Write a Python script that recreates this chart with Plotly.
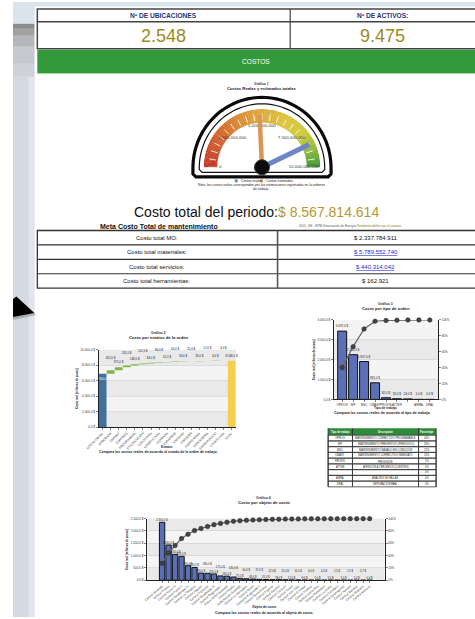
import math
import plotly.graph_objects as go

W, H = 475, 619
FONT = "Liberation Sans, Arial, sans-serif"


def X(p):
    return p / W


def Y(p):
    return 1 - p / H


# ---------------- data ----------------
header_labels = ["Nº DE UBICACIONES", "Nº DE ACTIVOS:"]
header_values = ["2.548", "9.475"]

gauge_real = 8567814614
gauge_estimado = 4850000000
gauge_max = 10000000000
gauge_tick_values = [0, 2500000000, 5000000000, 7500000000, 10000000000]
gauge_tick_labels = ["0", "2.500.000.000", "5.000.000.000", "7.500.000.000", "10.000.000.000"]
gauge_minor_step = 500000000

total_label = "Costo total del periodo:"
total_value = "$ 8.567.814.614"
cost_items = ["Costo total MO:", "Costo total materiales:", "Costo total servicios:",
              "Costo total herramientas:"]
cost_values = ["$ 2.337.784.911", "$ 5.789.552.740", "$ 440.314.042", "$ 162.921"]
cost_links = [False, True, True, False]

estatus = ["COSTO INICIAL", "APROBADA", "ESPMAT", "ESPPROG", "PROGRAMADA", "EN EJECUCIÓN",
           "EJECUTADA", "COMPLETADA", "CERRADA", "ESPAPROB", "ESPSERV", "ESPHERR",
           "SUSPENDIDA", "ESPCOMPRA", "ESPREPUESTO", "CANCELADA", "TOTAL"]
estatus_vals = [6904, 452, 371, 241, 148, 112, 84, 66, 52, 41, 33, 25, 18, 12, 6, 3]
estatus_ticks = [0, 2000, 4000, 6000, 8000, 10000]

tipos = ["OPROG", "MP", "MSC", "CMANT", "PROVIS", "ATTER", " ", "ANPAL", "DPAL"]
tipo_vals = [3437, 2250, 1907, 835, 82, 32, 24, 1.0, 0.3]
tipo_desc = ["MANTENIMIENTO CORRECTIVO PROGRAMABLE", "MANTENIMIENTO PREVENTIVO (PERIÓDICO)",
             "MANTENIMIENTO BASADO EN CONDICIÓN", "MANTENIMIENTO CORRECTIVO INMEDIATO",
             "PROVISIÓN", "ATENCIÓN A TERCEROS (CLIENTES)", "", "ANÁLISIS DE FALLAS",
             "DEPURACIÓN PAAL"]
tipo_pct = ["40%", "26%", "22%", "10%", "1%", "0%", "0%", "0%", "0%"]
tipo_ticks = [0, 1000, 2000, 3000, 4000]

objetos = ["Central Guatapé", "Central Playas", "Central Porce III", "Central Porce II",
           "Central Guadalupe IV", "Central La Tasajera", "Central Jaguas", "Central Troneras",
           "Central Guadalupe III", "Central Riogrande I", "Presa Peñol-Guatapé", "Central Niquía",
           "Subestación Guatapé", "Central La Herradura", "Central Ayurá", "Embalse Riogrande II",
           "Central Manantiales", "Central Pajarito", "Central Dolores", "Central Caracolí",
           "Central Ínsula", "Central San José", "Central El Popal", "Central Piedras",
           "Central Santa Rita", "Central Remedios", "Central La Vuelta", "Central Caruquia",
           "Central Guanaquitas", "Central Sonsón", "Central Mulatos", "Central Hispania",
           "Central Moravia"]
objeto_vals = [2350, 1430, 1050, 970, 590, 520, 290, 280, 255, 175, 165, 130, 75, 60, 48, 37,
               31, 22, 18, 15, 12, 11, 9, 6, 5, 4, 3, 2.5, 2, 1.5, 1, 0.7, 0.4]
objeto_ticks = [0, 500, 1000, 1500, 2000, 2500]
pct_ticks = [0, 20, 40, 60, 80, 100]


def money(v):
    s = f"{v:,.1f}"
    return s.replace(",", "X").replace(".", ",").replace("X", ".") + " $"


def cum_pct(vals):
    t = sum(vals)
    out, c = [], 0
    for v in vals:
        c += v
        out.append(c / t * 100)
    return out


shapes = []
annotations = []


def rect(x0, y0, x1, y1, fill=None, line=None, lw=1, layer="below"):
    shapes.append(dict(type="rect", xref="paper", yref="paper", x0=X(x0), x1=X(x1),
                       y0=Y(y0), y1=Y(y1), fillcolor=fill or "rgba(0,0,0,0)",
                       line=dict(color=line or "rgba(0,0,0,0)", width=lw if line else 0),
                       layer=layer))


def hline(x0, x1, y, color="#333", lw=1):
    shapes.append(dict(type="line", xref="paper", yref="paper", x0=X(x0), x1=X(x1),
                       y0=Y(y), y1=Y(y), line=dict(color=color, width=lw)))


def vline(x, y0, y1, color="#333", lw=1):
    shapes.append(dict(type="line", xref="paper", yref="paper", x0=X(x), x1=X(x),
                       y0=Y(y0), y1=Y(y1), line=dict(color=color, width=lw)))


def txt(x, y, text, size, color="#111", xanchor="center", under=False, family=FONT):
    f = dict(size=size, color=color, family=family)
    if under:
        f["lineposition"] = "under"
    annotations.append(dict(xref="paper", yref="paper", x=X(x), y=Y(y), text=text,
                            showarrow=False, xanchor=xanchor, yanchor="middle", font=f))


def path_from(points, close=True):
    d = "M " + " L ".join(f"{X(px):.5f},{Y(py):.5f}" for px, py in points)
    return d + (" Z" if close else "")


# ---------------- page background ----------------
rect(0, 0, 22, 619, fill="#d5dae2")
rect(16, 75, 22, 619, fill="#e1e4ea")
rect(0, 0, 475, 4.5, fill="#d9e3ec")
rect(0, 0, 22, 22, fill="#dbe3eb")
rect(0, 22, 22, 27, fill="#8c8c8c")
rect(0, 27, 22, 34, fill="#a2a2a2")
rect(0, 34, 22, 45, fill="#b5b7ba")
rect(0, 45, 22, 62, fill="#c6c9cd")
rect(0, 62, 22, 75, fill="#cfd3d9")
# arrow
shapes.append(dict(type="path", xref="paper", yref="paper",
                   path=path_from([(0, 301), (4, 298), (24, 315), (0, 320)]),
                   fillcolor="rgba(90,90,90,0.35)", line=dict(width=0)))
shapes.append(dict(type="path", xref="paper", yref="paper",
                   path=path_from([(0, 299), (3.5, 296.5), (22, 313), (0, 317)]),
                   fillcolor="#000", line=dict(width=0)))

# ---------------- header table ----------------
rect(25, 7, 477, 47, line="#444", lw=1.5)
hline(25, 477, 20, "#444", 1.5)
vline(285, 7, 47, "#444", 1.2)
for cx, lab, val in zip([155, 380], header_labels, header_values):
    txt(cx, 14, f"<b>{lab}</b>", 6.6, "#28337a")
    txt(cx, 34, val, 18, "#9c8a1e")

rect(25, 48, 477, 72, fill="#33993a")
hline(25, 477, 72, "#a8d8a0", 1)
txt(250, 60, "COSTOS", 6.6, "#ffffff")

# ---------------- gauge ----------------
txt(256, 82.5, "<b>Gráfico 1</b>", 3.4, "#333")
txt(256, 87, "<b>Costos Reales y estimados totales</b>", 4.2, "#222")

gcx, gcy = 256, 167
# frame (outer thick + inner thin)
for R, bottom, lw, col in [(71, 176, 3.2, "#0a0a0a"), (64.5, 171.5, 1.2, "#111")]:
    pts = []
    for i in range(0, 61):
        a = math.pi - math.pi * i / 60
        pts.append((gcx + R * math.cos(a), gcy - R * math.sin(a)))
    pts += [(gcx + R, bottom - 3), (gcx + R - 3, bottom), (gcx - R + 3, bottom), (gcx - R, bottom - 3)]
    shapes.append(dict(type="path", xref="paper", yref="paper", path=path_from(pts),
                       line=dict(color=col, width=lw), fillcolor="rgba(0,0,0,0)"))


def deg(v):
    return v / gauge_max * 180.0


def hex2rgb(h):
    h = h.lstrip("#")
    return tuple(int(h[i:i + 2], 16) for i in (0, 2, 4))


stops = [(0.0, "#c43a2a"), (0.22, "#d46a2e"), (0.45, "#dca23c"), (0.62, "#dcc03e"),
         (0.78, "#cfcc3a"), (0.9, "#8db83a"), (1.0, "#3c9a36")]


def grad(t):
    for (t0, c0), (t1, c1) in zip(stops[:-1], stops[1:]):
        if t0 <= t <= t1:
            f = (t - t0) / (t1 - t0)
            a, b = hex2rgb(c0), hex2rgb(c1)
            return "rgb(%d,%d,%d)" % tuple(round(a[k] + (b[k] - a[k]) * f) for k in range(3))
    return stops[-1][1]


NB = 72
band_theta = [(i + 0.5) * 180 / NB for i in range(NB)]
fig = go.Figure()
fig.add_trace(go.Barpolar(r=[14] * NB, base=[46] * NB, theta=band_theta, width=[180 / NB + 0.3] * NB,
                          marker=dict(color=[grad(t / 180) for t in band_theta], line=dict(width=0)),
                          subplot="polar", hoverinfo="skip", showlegend=False))
# minor tick marks
tr, tt = [], []
n_minor = int(gauge_max / gauge_minor_step)
for i in range(n_minor + 1):
    th = deg(i * gauge_minor_step)
    tr += [48, 55, None]
    tt += [th, th, None]
fig.add_trace(go.Scatterpolar(r=tr, theta=tt, mode="lines", line=dict(color="rgba(255,255,255,0.85)", width=1),
                              subplot="polar", hoverinfo="skip", showlegend=False))
fig.add_trace(go.Scatterpolar(r=[43] * len(gauge_tick_values), theta=[deg(v) for v in gauge_tick_values],
                              mode="text", text=gauge_tick_labels, cliponaxis=False,
                              textfont=dict(size=4.3, color="#333", family=FONT),
                              subplot="polar", hoverinfo="skip", showlegend=False))
# needles
fig.add_trace(go.Scatterpolar(r=[0, 54], theta=[deg(gauge_estimado)] * 2, mode="lines",
                              line=dict(color="#d99656", width=4.5), cliponaxis=False,
                              subplot="polar", hoverinfo="skip", showlegend=False))
fig.add_trace(go.Scatterpolar(r=[0, 54], theta=[deg(gauge_real)] * 2, mode="lines",
                              line=dict(color="#6c86c6", width=5), cliponaxis=False,
                              subplot="polar", hoverinfo="skip", showlegend=False))
fig.add_trace(go.Scatterpolar(r=[0], theta=[0], mode="markers", cliponaxis=False,
                              marker=dict(size=15, color="#0b0b0b", line=dict(color="#333", width=1)),
                              subplot="polar", hoverinfo="skip", showlegend=False))

# gauge legend & note
rect(228, 178.5, 231, 181.5, fill="#6c86c6")
txt(232, 180, "Costos reales", 3.4, "#222", xanchor="left")
rect(254, 178.5, 257, 181.5, fill="#d99656")
txt(258, 180, "Costos estimados", 3.4, "#222", xanchor="left")
txt(255, 184.5, "Nota: los costos reales corresponden por las estimaciones registradas en la ordenes", 3.4, "#222")
txt(255, 188.5, "de trabajo.", 3.4, "#222")

# ---------------- total and cost table ----------------
txt(250, 211, f"{total_label}<span style='color:#b29a2e'>{total_value}</span>", 14, "#111")
txt(150, 226, "<b>Meta Costo Total de mantenimiento</b>", 7, "#111")
txt(347, 225.5, "0101_GE - EPM Generación de Energía <span style='color:#8a7a10'>Pendiente definir por el usuario.</span>",
    3.2, "#555")

rows = [230, 244.5, 259, 273.5, 288]
rect(25, rows[0], 477, rows[-1], line="#333", lw=1.3)
for yy in rows[1:-1]:
    hline(25, 477, yy, "#333", 1.1)
vline(272, rows[0], rows[-1], "#555", 1.6)
for i, (lab, val, link) in enumerate(zip(cost_items, cost_values, cost_links)):
    ym = (rows[i] + rows[i + 1]) / 2
    txt(148, ym, lab, 6, "#111")
    txt(373, ym, val, 6, "#2b2bd6" if link else "#111", under=link)

# ---------------- chart 2: waterfall ----------------
cum = 0
wf_base, wf_y, wf_text, wf_col, wf_pos = [], [], [], [], []
for i, v in enumerate(estatus_vals):
    if i == 0:
        wf_base.append(0)
        wf_col.append("#40709b")
        wf_pos.append("inside")
    else:
        wf_base.append(cum)
        wf_col.append("#7db544")
        wf_pos.append("outside")
    wf_y.append(v)
    wf_text.append(money(v) + ("<br>&nbsp;<br>&nbsp;" if i % 2 == 1 else ""))
    cum += v
wf_base.append(0)
wf_y.append(cum)
wf_text.append(money(cum))
wf_col.append("#f4d04e")
wf_pos.append("outside")

fig.add_trace(go.Bar(x=estatus, y=wf_y, base=wf_base, width=0.96,
                     marker=dict(color=wf_col, line=dict(width=0)),
                     text=wf_text, textposition=wf_pos, insidetextanchor="end",
                     constraintext="none", cliponaxis=False, textangle=0,
                     textfont=dict(size=2.9, color="#222", family=FONT),
                     insidetextfont=dict(size=2.9, color="#ffffff", family=FONT),
                     xaxis="x", yaxis="y", showlegend=False))

txt(150, 333, "<b>Gráfico 2</b>", 3.4, "#333")
txt(150, 338, "<b>Costo por estatus de la orden</b>", 4.2, "#222")
txt(158, 448, "<b>Estatus</b>", 3.2, "#222")
txt(150, 452.5, "<b>Compara los costos reales de acuerdo al estado de la orden de trabajo.</b>", 3.5, "#222")

# ---------------- chart 3: pareto tipo ----------------
fig.add_trace(go.Bar(x=tipos, y=tipo_vals, width=0.82,
                     marker=dict(color="#5a6fb6", line=dict(color="#111", width=1)),
                     text=[money(v) for v in tipo_vals], textposition="outside",
                     constraintext="none", cliponaxis=False,
                     textfont=dict(size=3.0, color="#222", family=FONT),
                     xaxis="x2", yaxis="y2", showlegend=False))
fig.add_trace(go.Scatter(x=tipos, y=cum_pct(tipo_vals), mode="lines+markers",
                         line=dict(color="#666", width=1.2),
                         marker=dict(size=4.5, color="#444", line=dict(color="#222", width=0.5)),
                         xaxis="x2", yaxis="y3", showlegend=False, cliponaxis=False))
txt(383, 304, "<b>Gráfico 3</b>", 3.4, "#333")
txt(383, 308.5, "<b>Costo por tipo de orden</b>", 4.2, "#222")
txt(383, 409, "<b>Tipo de trabajo</b>", 3.2, "#222")
txt(380, 413.5, "<b>Compara los costos reales de acuerdo al tipo de trabajo.</b>", 3.6, "#222")

# tipo table
tcols = [324, 349, 417, 435]
t_top, t_head = 429, 436
rh = (488 - t_head) / len(tipos)
rect(tcols[0], t_top, tcols[-1], t_head, fill="#2e8b3a")
for cx, h in zip([(tcols[0] + tcols[1]) / 2, (tcols[1] + tcols[2]) / 2, (tcols[2] + tcols[3]) / 2],
                 ["Tipo de trabajo", "Descripción", "Porcentaje"]):
    txt(cx, (t_top + t_head) / 2, f"<b>{h}</b>", 2.6, "#fff")
for i, (tp, de, pc) in enumerate(zip(tipos, tipo_desc, tipo_pct)):
    y0 = t_head + i * rh
    rect(tcols[0], y0, tcols[-1], y0 + rh, line="#333", lw=0.8)
    ym = y0 + rh / 2
    txt((tcols[0] + tcols[1]) / 2, ym, tp, 2.6, "#222")
    txt((tcols[1] + tcols[2]) / 2, ym, de, 2.6, "#222")
    txt((tcols[2] + tcols[3]) / 2, ym, pc, 2.6, "#222")
for cx in tcols:
    vline(cx, t_top, 488, "#333", 1)

# ---------------- chart 4: pareto objeto ----------------
obj_text = []
for i, v in enumerate(objeto_vals):
    lab = money(v)
    if i >= 6 and i % 2 == 1:
        lab += "<br>&nbsp;<br>&nbsp;"
    obj_text.append(lab)
fig.add_trace(go.Bar(x=objetos, y=objeto_vals, width=0.82,
                     marker=dict(color="#5a6fb6", line=dict(color="#111", width=1)),
                     text=obj_text, textposition="outside",
                     constraintext="none", cliponaxis=False,
                     textfont=dict(size=2.7, color="#222", family=FONT),
                     xaxis="x3", yaxis="y4", showlegend=False))
fig.add_trace(go.Scatter(x=objetos, y=cum_pct(objeto_vals), mode="lines+markers",
                         line=dict(color="#666", width=1.2),
                         marker=dict(size=4.5, color="#444", line=dict(color="#222", width=0.5)),
                         xaxis="x3", yaxis="y5", showlegend=False, cliponaxis=False))
txt(258, 499, "<b>Gráfico 4</b>", 3.4, "#333")
txt(258, 503.5, "<b>Costo por objeto de costo</b>", 4.2, "#222")
txt(258, 609, "<b>Objeto de costo</b>", 3.2, "#222")
txt(258, 614.5, "<b>Compara los costos reales de acuerdo al objeto de costo.</b>", 3.6, "#222")


# alternating bands
def bands(xref, yref, ticks):
    for i in range(len(ticks) - 1):
        if i % 2 == 1:
            shapes.append(dict(type="rect", xref=xref + " domain", yref=yref, x0=0, x1=1,
                               y0=ticks[i], y1=ticks[i + 1], fillcolor="#f4f4f4",
                               line=dict(width=0), layer="below"))


bands("x", "y", estatus_ticks)
bands("x2", "y2", tipo_ticks)
bands("x3", "y4", objeto_ticks)

tick_font = dict(size=3.1, color="#333", family=FONT)
ytitle_font = dict(size=2.8, color="#222", family=FONT)
common_y = dict(showgrid=True, gridcolor="#cdcdcd", gridwidth=0.6, showline=True, linecolor="#222",
                linewidth=1, ticks="outside", ticklen=2, tickwidth=0.6, tickcolor="#333",
                tickfont=tick_font, zeroline=False, fixedrange=True)
common_x = dict(showline=True, linecolor="#222", linewidth=1, ticks="outside", ticklen=2,
                tickwidth=0.6, tickcolor="#333", tickfont=tick_font, showgrid=False, fixedrange=True)

fig.update_layout(
    width=W, height=H, margin=dict(l=0, r=0, t=0, b=0, pad=0),
    paper_bgcolor="#ffffff", plot_bgcolor="#e9e9e9",
    font=dict(family=FONT, color="#222"),
    showlegend=False, shapes=shapes, annotations=annotations,
    polar=dict(domain=dict(x=[X(gcx - 60), X(gcx + 60)], y=[Y(gcy), Y(gcy - 60)]),
               sector=[0, 180], bgcolor="rgba(0,0,0,0)", hole=0,
               radialaxis=dict(visible=False, range=[0, 60]),
               angularaxis=dict(visible=False, rotation=180, direction="clockwise")),
    xaxis=dict(domain=[X(88), X(229)], anchor="y", tickangle=-45, **common_x),
    yaxis=dict(domain=[Y(428), Y(350)], anchor="x", range=[0, 10000], tickvals=estatus_ticks,
               ticktext=[money(v) for v in estatus_ticks],
               title=dict(text="<b>Costo real (millones de pesos)</b>", font=ytitle_font, standoff=2),
               **common_y),
    xaxis2=dict(domain=[X(330), X(437)], anchor="y2", tickangle=0, **common_x),
    yaxis2=dict(domain=[Y(400), Y(320)], anchor="x2", range=[0, 4000], tickvals=tipo_ticks,
                ticktext=[money(v) for v in tipo_ticks],
                title=dict(text="<b>Costo real (millones de pesos)</b>", font=ytitle_font, standoff=2),
                **common_y),
    yaxis3=dict(anchor="x2", overlaying="y2", side="right", range=[0, 100], tickvals=pct_ticks,
                ticktext=[f"{v}%" for v in pct_ticks], showgrid=False, showline=True,
                linecolor="#222", linewidth=1, ticks="outside", ticklen=2, tickwidth=0.6,
                tickfont=tick_font, zeroline=False, fixedrange=True),
    xaxis3=dict(domain=[X(138), X(382)], anchor="y4", tickangle=-40, **common_x),
    yaxis4=dict(domain=[Y(582), Y(520)], anchor="x3", range=[0, 2500], tickvals=objeto_ticks,
                ticktext=[money(v) for v in objeto_ticks],
                title=dict(text="<b>Costo real (millones de pesos)</b>", font=ytitle_font, standoff=2),
                **common_y),
    yaxis5=dict(anchor="x3", overlaying="y4", side="right", range=[0, 100], tickvals=pct_ticks,
                ticktext=[f"{v}%" for v in pct_ticks], showgrid=False, showline=True,
                linecolor="#222", linewidth=1, ticks="outside", ticklen=2, tickwidth=0.6,
                tickfont=tick_font, zeroline=False, fixedrange=True),
)

fig.write_html("out.html", config={"displayModeBar": False, "staticPlot": True},
               post_script="document.body.style.margin='0';document.body.style.overflow='hidden';")
